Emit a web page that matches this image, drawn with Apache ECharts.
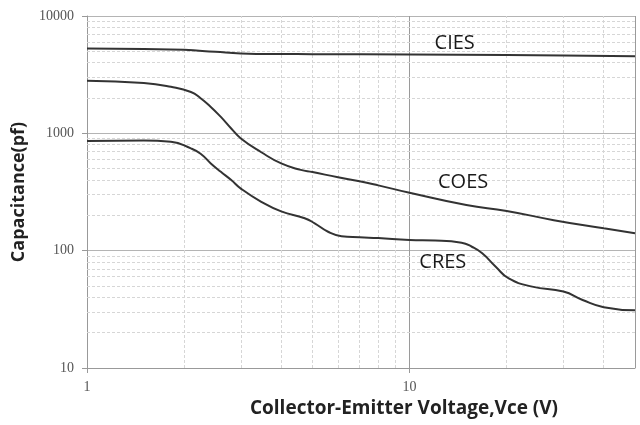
<!DOCTYPE html>
<html>
<head>
<meta charset="utf-8">
<script src="https://cdn.jsdelivr.net/npm/echarts@6/dist/echarts.min.js"></script>
<style>
  html, body { margin: 0; padding: 0; background: #fff; }
  #chart { width: 640px; height: 425px; }
</style>
</head>
<body>
<div id="chart"></div>
<script>
// Vce (V) / capacitance (pF)
const ciesV = [1, 1.5, 2, 2.5, 3, 4, 5, 10, 20, 30, 50];
const ciesC = [5280, 5230, 5150, 4950, 4800, 4740, 4730, 4700, 4650, 4600, 4550];

const coesV = [1, 1.5, 1.82, 2.1, 2.25, 2.42, 2.6, 2.8, 3, 3.47, 4, 4.6, 5, 6, 7, 8, 10, 15, 20, 28, 40, 50];
const coesC = [2800, 2680, 2490, 2250, 1990, 1680, 1380, 1100, 905, 690, 554, 488, 468, 422, 390, 360, 312, 245, 218, 182, 155, 141];

const cresV = [1, 1.5, 1.82, 2.1, 2.25, 2.42, 2.6, 2.8, 3, 3.47, 4, 4.73, 5.08, 5.59, 6.15, 7, 8, 10, 12, 14.5, 15.6, 16.8, 18.5, 20.3, 24, 30, 34.4, 40, 50];
const cresC = [859, 870, 847, 744, 670, 554, 470, 400, 338, 261, 216, 189, 171, 145, 133, 130, 128, 123, 122, 117, 108, 95, 73, 58, 49.4, 44.8, 38, 33, 31];

// curve names and where their labels sit (Vce, pF)
const names = ['CIES', 'COES', 'CRES'];
const labelAt = [[13.8, 5900], [14.66, 386], [12.68, 79]];

// minor grid values
const minorX = [2, 3, 4, 5, 6, 7, 8, 9, 20, 30, 40];
const minorY = [20, 30, 40, 50, 60, 70, 80, 90, 200, 300, 400, 500, 600, 700, 800, 900,
  2000, 3000, 4000, 5000, 6000, 7000, 8000, 9000];

const zip = (xs, ys) => xs.map((x, i) => [x, ys[i]]);
const curves = [zip(ciesV, ciesC), zip(coesV, coesC), zip(cresV, cresC)];

const chart = echarts.init(document.getElementById('chart'));

const curveSeries = curves.map((d, i) => ({
  name: names[i],
  type: 'line',
  data: d,
  smooth: 0.5,
  symbol: 'none',
  z: 5,
  lineStyle: { color: '#333', width: 2 },
  markPoint: {
    silent: true,
    symbol: 'circle',
    symbolSize: 0,
    label: {
      show: true,
      position: 'inside',
      formatter: names[i],
      fontFamily: 'Open Sans',
      fontSize: 20,
      color: '#1a1a1a'
    },
    data: [{ coord: labelAt[i] }]
  }
}));

chart.setOption({
  animation: false,
  backgroundColor: '#fff',
  grid: { left: 87, right: 5, top: 16, bottom: 57 },
  xAxis: {
    type: 'log',
    logBase: 10,
    min: 1,
    max: 50,
    name: 'Collector-Emitter Voltage,Vce (V)',
    nameLocation: 'middle',
    nameGap: 30,
    nameTextStyle: {
      fontFamily: 'Open Sans',
      fontWeight: 'bold',
      fontSize: 19,
      color: '#222',
      padding: [0, 0, 0, 86]
    },
    axisLine: { show: true, lineStyle: { color: '#999' } },
    axisTick: { show: true, length: 5, lineStyle: { color: '#999' } },
    axisLabel: {
      showMaxLabel: false,
      margin: 12,
      fontFamily: 'Liberation Serif',
      fontSize: 14,
      color: '#555'
    },
    splitLine: { show: true, lineStyle: { color: '#9a9a9a', width: 1 } }
  },
  yAxis: {
    type: 'log',
    logBase: 10,
    min: 10,
    max: 10000,
    name: 'Capacitance(pf)',
    nameLocation: 'middle',
    nameGap: 54,
    nameTextStyle: {
      fontFamily: 'Open Sans',
      fontWeight: 'bold',
      fontSize: 18,
      color: '#222'
    },
    axisLine: { show: true, lineStyle: { color: '#999' } },
    axisTick: { show: true, length: 5, lineStyle: { color: '#999' } },
    axisLabel: {
      margin: 13,
      fontFamily: 'Liberation Serif',
      fontSize: 14,
      color: '#555',
      formatter: v => String(Math.round(v))
    },
    splitLine: { show: true, lineStyle: { color: '#b4b4b4', width: 1 } }
  },
  series: [
    {
      type: 'line',
      data: [],
      z: 1,
      markLine: {
        silent: true,
        symbol: 'none',
        label: { show: false },
        lineStyle: { color: '#d6d6d6', type: [3, 2], width: 1 },
        data: minorX.map(v => ({ xAxis: v })).concat(minorY.map(v => ({ yAxis: v })))
      }
    }
  ].concat(curveSeries)
});
</script>
</body>
</html>
